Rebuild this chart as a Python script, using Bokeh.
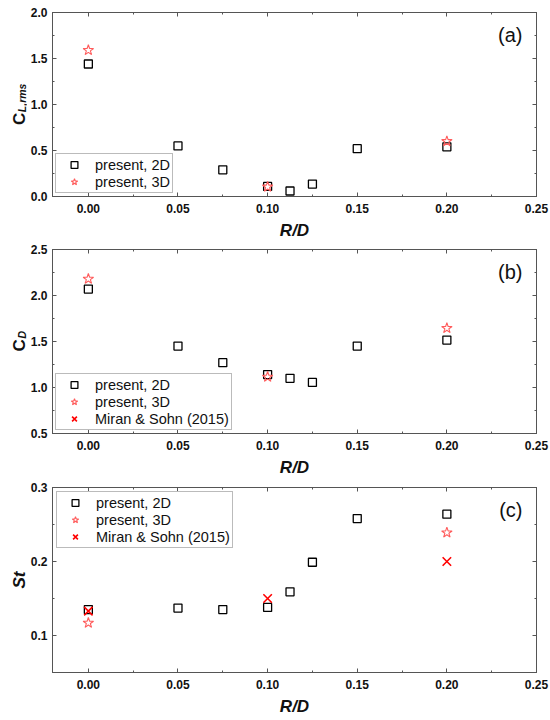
import math
from bokeh.plotting import figure
from bokeh.models import (LinearAxis, SingleIntervalTicker, NumeralTickFormatter,
                          Legend, LegendItem, Label, Range1d)
from bokeh.layouts import column, row
from bokeh.embed import file_html
from bokeh.resources import INLINE

# ---------------- data ----------------
rd_2d = [0.0, 0.05, 0.075, 0.1, 0.1125, 0.125, 0.15, 0.2]
rd_3d = [0.0, 0.1, 0.2]
cl_2d = [1.44, 0.55, 0.29, 0.11, 0.06, 0.135, 0.52, 0.54]
cl_3d = [1.59, 0.105, 0.60]
cd_2d = [2.07, 1.45, 1.27, 1.14, 1.10, 1.055, 1.45, 1.515]
cd_3d = [2.18, 1.115, 1.645]
st_2d = [0.135, 0.137, 0.135, 0.138, 0.159, 0.199, 0.258, 0.264]
rd_st_3d = [0.0, 0.2]
st_3d = [0.117, 0.239]
rd_miran = [0.0, 0.1, 0.2]
st_miran = [0.133, 0.150, 0.200]
# Miran & Sohn appears only in the legend of panel (b): no plotted point
rd_miran_cd = [float("nan")]
cd_miran = [float("nan")]

x_ticks_interval = 0.05
legend_labels = ["present, 2D", "present, 3D", "Miran & Sohn (2015)"]
panel_tags = ["(a)", "(b)", "(c)"]

FONT = "Liberation Sans"
AX = "#555555"
STAR = "#ff5c5c"
XRED = "#ff0000"
FW = 484
LABW = 27
MBL = 22
MBR = 17
EPS = 1e-6


def style_axis(ax, ticker, fmt=None, labels=True):
    ax.ticker = ticker
    ax.axis_line_color = AX
    ax.major_tick_line_color = AX
    ax.minor_tick_line_color = AX
    ax.major_tick_in = 4
    ax.major_tick_out = 0
    ax.minor_tick_in = 2
    ax.minor_tick_out = 0
    if labels:
        ax.formatter = fmt
        ax.major_label_text_font = FONT
        ax.major_label_text_font_style = "bold"
        ax.major_label_text_font_size = "12px"
        ax.major_label_text_color = "#111111"
    else:
        ax.major_label_text_color = None
        ax.major_label_text_font_size = "0px"
        ax.major_label_standoff = 0


def make_fig(ylim, yint, yfmt, fh, top, bottom):
    p = figure(frame_width=FW, frame_height=fh,
               x_range=Range1d(-0.02, 0.25 + EPS), y_range=Range1d(ylim[0], ylim[1] + EPS),
               output_backend="svg", toolbar_location=None,
               min_border_left=MBL, min_border_right=MBR,
               min_border_top=top, min_border_bottom=bottom)
    p.xgrid.visible = False
    p.ygrid.visible = False
    p.outline_line_color = AX
    p.background_fill_color = "white"
    p.border_fill_color = "white"
    xt = SingleIntervalTicker(interval=x_ticks_interval, num_minor_ticks=2)
    yt = SingleIntervalTicker(interval=yint, num_minor_ticks=2)
    style_axis(p.xaxis[0], xt, NumeralTickFormatter(format="0.00"))
    style_axis(p.yaxis[0], yt, NumeralTickFormatter(format=yfmt))
    p.xaxis[0].major_label_standoff = 7
    p.yaxis[0].major_label_standoff = 5
    p.xaxis[0].axis_label = "R/D"
    p.xaxis[0].axis_label_text_font = FONT
    p.xaxis[0].axis_label_text_font_style = "bold italic"
    p.xaxis[0].axis_label_text_font_size = "17px"
    p.xaxis[0].axis_label_text_color = "#111111"
    p.xaxis[0].axis_label_standoff = 5
    top_ax = LinearAxis()
    right_ax = LinearAxis()
    style_axis(top_ax, SingleIntervalTicker(interval=x_ticks_interval, num_minor_ticks=2), labels=False)
    style_axis(right_ax, SingleIntervalTicker(interval=yint, num_minor_ticks=2), labels=False)
    p.add_layout(top_ax, "above")
    p.add_layout(right_ax, "right")
    return p


def add_tag(p, tag, fh):
    p.add_layout(Label(x=FW - 14, y=fh - 22, x_units="screen", y_units="screen",
                       text=tag, text_font=FONT, text_font_size="20px",
                       text_align="right", text_baseline="middle", text_color="#111111"))


def label_fig(p, fh, top, bottom, main, sub, main_style="bold", sub_size=10.5):
    """Narrow strip left of the panel that carries the rotated y-axis title.
    It shares the panel's y range and frame geometry, so data units line up."""
    q = figure(frame_width=LABW, frame_height=fh,
               x_range=Range1d(0, LABW), y_range=p.y_range,
               output_backend="svg", toolbar_location=None,
               x_axis_location=None, y_axis_location=None,
               min_border_left=0, min_border_right=0,
               min_border_top=top, min_border_bottom=bottom)
    q.xgrid.visible = False
    q.ygrid.visible = False
    q.outline_line_color = None
    q.background_fill_color = "white"
    q.border_fill_color = "white"
    y_lo, y_hi = p.y_range.start, p.y_range.end
    dpp = (y_hi - y_lo) / fh
    yc = (y_lo + y_hi) / 2
    bx = 19
    if sub is None:
        q.add_layout(Label(x=bx, y=yc, text=main, text_font=FONT, text_font_size="17px",
                           text_font_style=main_style, angle=math.pi / 2,
                           text_align="center", text_baseline="alphabetic",
                           text_color="#111111"))
        return q
    main_w = 17 * 0.722
    sub_w = {"L,rms": 2.72, "D": 0.722}[sub] * sub_size
    y0 = yc - (main_w + sub_w) / 2 * dpp
    q.add_layout(Label(x=bx, y=y0, text=main, text_font=FONT, text_font_size="17px",
                       text_font_style=main_style, angle=math.pi / 2,
                       text_align="left", text_baseline="alphabetic",
                       text_color="#111111"))
    q.add_layout(Label(x=bx + 2.5, y=y0 + (main_w + 0.5) * dpp,
                       text=sub, text_font=FONT, text_font_size=f"{sub_size}px",
                       text_font_style="bold italic", angle=math.pi / 2,
                       text_align="left", text_baseline="alphabetic",
                       text_color="#111111"))
    return q


def add_series(p, x2, y2, x3, y3, xm=None, ym=None):
    r2 = p.scatter(x2, y2, marker="square", size=8, fill_color=None,
                   line_color="black", line_width=1.3)
    r3 = p.scatter(x3, y3, marker="star", size=11, fill_color=None,
                   line_color=STAR, line_width=1.1)
    rs = [r2, r3]
    if xm is not None:
        rm = p.scatter(xm, ym, marker="x", size=12, line_color=XRED, line_width=1.6)
        rs.append(rm)
    return rs


def add_legend(p, rs, loc, margin):
    items = [LegendItem(label=legend_labels[i], renderers=[r]) for i, r in enumerate(rs)]
    lg = Legend(items=items, location=loc, margin=margin, padding=2,
                spacing=0, glyph_width=32, glyph_height=17, label_height=17,
                label_standoff=5, label_text_font=FONT, label_text_font_size="14.5px",
                label_text_color="#111111", border_line_color="#777777",
                border_line_width=1, background_fill_alpha=1.0)
    p.add_layout(lg, "center")


# (top border, frame height, bottom border) per panel
TA, FA, BA = 12, 184, 46
TB, FB, BB = 7, 184, 47
TC, FC, BC = 7, 185, 46

# ---------------- panel (a) ----------------
pa = make_fig((0.0, 2.0), 0.5, "0.0", FA, TA, BA)
ra = add_series(pa, rd_2d, cl_2d, rd_3d, cl_3d)
add_legend(pa, ra, "bottom_left", 3)
add_tag(pa, panel_tags[0], FA)
la = label_fig(pa, FA, TA, BA, "C", "L,rms")

# ---------------- panel (b) ----------------
pb = make_fig((0.5, 2.5), 0.5, "0.0", FB, TB, BB)
rb = add_series(pb, rd_2d, cd_2d, rd_3d, cd_3d, rd_miran_cd, cd_miran)
add_legend(pb, rb, "bottom_left", 3)
add_tag(pb, panel_tags[1], FB)
lb = label_fig(pb, FB, TB, BB, "C", "D", sub_size=11)

# ---------------- panel (c) ----------------
pc = make_fig((0.05, 0.3), 0.1, "0.0", FC, TC, BC)
rc = add_series(pc, rd_2d, st_2d, rd_st_3d, st_3d, rd_miran, st_miran)
add_legend(pc, rc, "top_left", 4)
add_tag(pc, panel_tags[2], FC)
lc = label_fig(pc, FC, TC, BC, "St", None, main_style="bold italic")

layout = column(row(la, pa, spacing=0), row(lb, pb, spacing=0),
                row(lc, pc, spacing=0), spacing=0)
open("out.html", "w").write(file_html(layout, INLINE))
